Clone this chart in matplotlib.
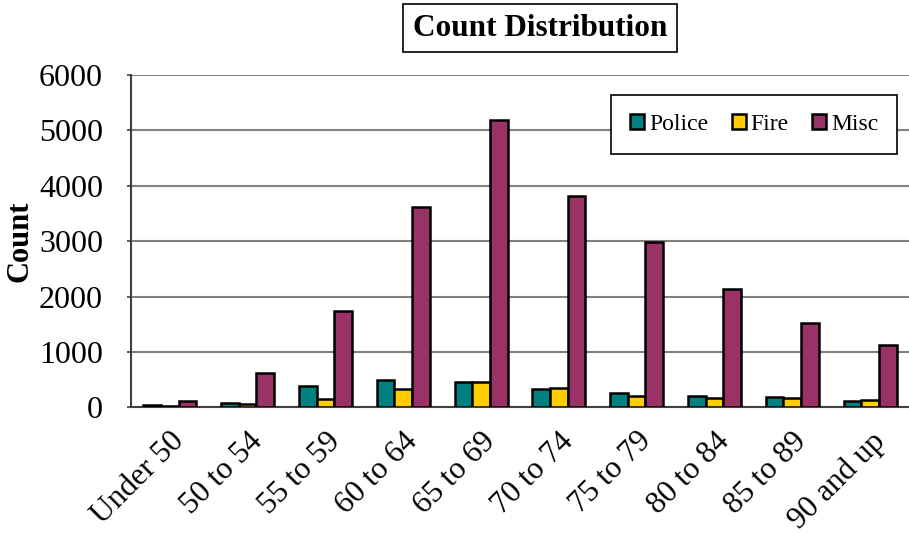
import matplotlib.pyplot as plt
import numpy as np

categories = ["Under 50", "50 to 54", "55 to 59", "60 to 64", "65 to 69",
              "70 to 74", "75 to 79", "80 to 84", "85 to 89", "90 and up"]
police = [35, 85, 380, 500, 457, 325, 259, 211, 193, 121]
fire = [20, 60, 157, 338, 447, 344, 204, 175, 163, 139]
misc = [110, 610, 1735, 3620, 5190, 3815, 2984, 2134, 1519, 1127]
yticks = [0, 1000, 2000, 3000, 4000, 5000, 6000]

plt.rcParams['font.family'] = ['Liberation Serif', 'DejaVu Serif']

fig = plt.figure(figsize=(9.09, 5.33), dpi=100)
ax = fig.add_axes([0.144, 0.236, 0.856, 0.623])

x = np.arange(len(categories))
w = 0.227
series = [(police, "#008080", "Police"), (fire, "#FFCC00", "Fire"), (misc, "#993366", "Misc")]
for i, (vals, col, lab) in enumerate(series):
    ax.bar(x + (i - 1) * w, vals, width=w, color=col, edgecolor="black",
           linewidth=1.8, label=lab, zorder=3)

ax.set_xlim(-0.5, len(categories) - 0.5)
ax.set_ylim(0, 6000)
ax.set_yticks(yticks)
ax.tick_params(axis='y', labelsize=23, length=3, width=1.2, color="#404040", pad=17)
ax.set_xticks(x)
ax.set_xticklabels(categories, rotation=45, ha='right', rotation_mode='anchor', fontsize=22.5)
ax.tick_params(axis='x', length=0, pad=14)
ax.yaxis.grid(True, color="#808080", linewidth=1.5, zorder=0)
ax.set_axisbelow(True)
for s in ["top", "right"]:
    ax.spines[s].set_visible(False)
for s in ["left", "bottom"]:
    ax.spines[s].set_color("#404040")
    ax.spines[s].set_linewidth(1.5)

ax.set_ylabel("Count", fontsize=22, fontweight='bold', labelpad=3)

fig.text(0.594, 0.947, "Count Distribution", fontsize=22.5, fontweight='bold',
         ha='center', va='center',
         bbox=dict(boxstyle='square,pad=0.3', facecolor='white', edgecolor='black', linewidth=1.2))

leg = ax.legend(loc='upper right', bbox_to_anchor=(0.985, 0.94), ncol=3, fontsize=17,
                frameon=True, fancybox=False, edgecolor='black', framealpha=1,
                handlelength=0.6, handleheight=0.6, handletextpad=0.2, columnspacing=1.0,
                borderpad=0.8, borderaxespad=0)
leg.get_frame().set_linewidth(1.2)

fig.savefig("out.png", dpi=100, facecolor='white')
